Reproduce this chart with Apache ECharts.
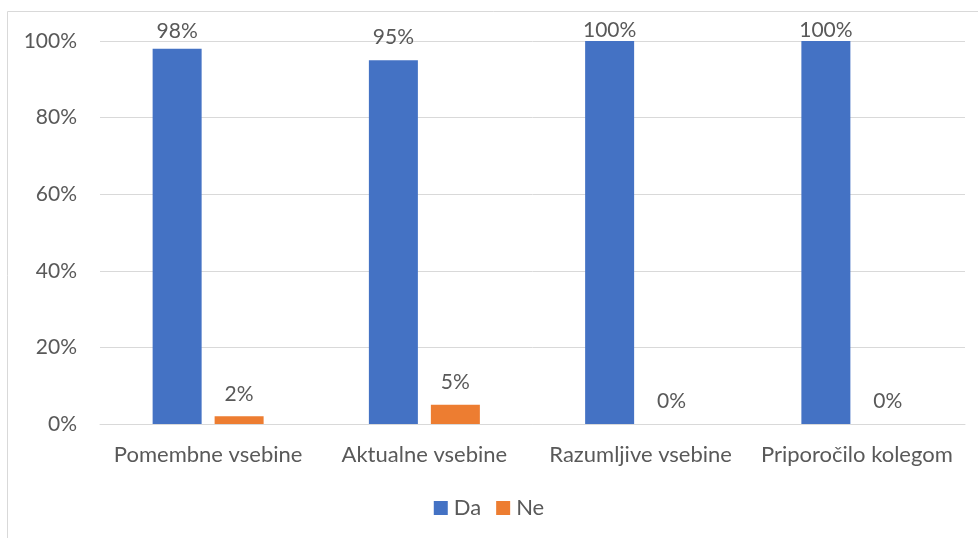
<!DOCTYPE html>
<html><head><meta charset="utf-8">
<script src="https://cdn.jsdelivr.net/npm/echarts@6/dist/echarts.min.js"></script>
<style>html,body{margin:0;padding:0;background:#fff}#c{width:978px;height:538px}</style>
</head><body><div id="c"></div>
<script>
const categories = ['Pomembne vsebine', 'Aktualne vsebine', 'Razumljive vsebine', 'Priporočilo kolegom'];
const da = [98, 95, 100, 100];
const ne = [2, 5, 0, 0];
const yTicks = [0, 20, 40, 60, 80, 100];

const FONT = 'Lato';
const TXT = '#595959';
// Excel keeps labels inside the chart area: shrink label distance for the tallest bars
function items(vals) {
  return vals.map(v => {
    const barTop = 424 - v * 3.83;
    const d = Math.max(0, Math.min(12, barTop - 42));
    return { value: v, label: { distance: d } };
  });
}
const chart = echarts.init(document.getElementById('c'));
chart.setOption({
  animation: false,
  textStyle: { fontFamily: FONT },
  graphic: [{ type: 'rect', shape: { x: 7.5, y: 11.5, width: 1000, height: 600 }, style: { fill: 'none', stroke: '#d9d9d9', lineWidth: 1 }, silent: true }],
  grid: { left: 100, right: 13, top: 41, bottom: 114 },
  legend: {
    bottom: 14, left: 'center', itemWidth: 14, itemHeight: 14, itemGap: 15,
    icon: 'rect',
    textStyle: { fontFamily: FONT, fontSize: 22, color: TXT, padding: [0, 0, 0, 1] },
    data: ['Da', 'Ne']
  },
  xAxis: {
    type: 'category', data: categories,
    axisLine: { lineStyle: { color: '#d9d9d9', width: 1 } },
    axisTick: { show: false },
    axisLabel: { fontFamily: FONT, fontSize: 22, color: TXT, margin: 20, interval: 0 }
  },
  yAxis: {
    type: 'value', min: 0, max: 100, interval: 20,
    axisLine: { show: false }, axisTick: { show: false },
    splitLine: { lineStyle: { color: '#d9d9d9', width: 1 } },
    axisLabel: { fontFamily: FONT, fontSize: 21, color: TXT, margin: 23, formatter: v => yTicks.includes(v) ? v + '%' : '' }
  },
  series: [
    { name: 'Da', type: 'bar', data: items(da), barWidth: 49, barGap: '26.5%', itemStyle: { color: '#4472C4' },
      label: { show: true, position: 'top', formatter: '{c}%', fontFamily: FONT, fontSize: 21, color: TXT } },
    { name: 'Ne', type: 'bar', data: items(ne), barWidth: 49, itemStyle: { color: '#ED7D31' },
      label: { show: true, position: 'top', formatter: '{c}%', fontFamily: FONT, fontSize: 21, color: TXT } }
  ]
});
</script></body></html>
